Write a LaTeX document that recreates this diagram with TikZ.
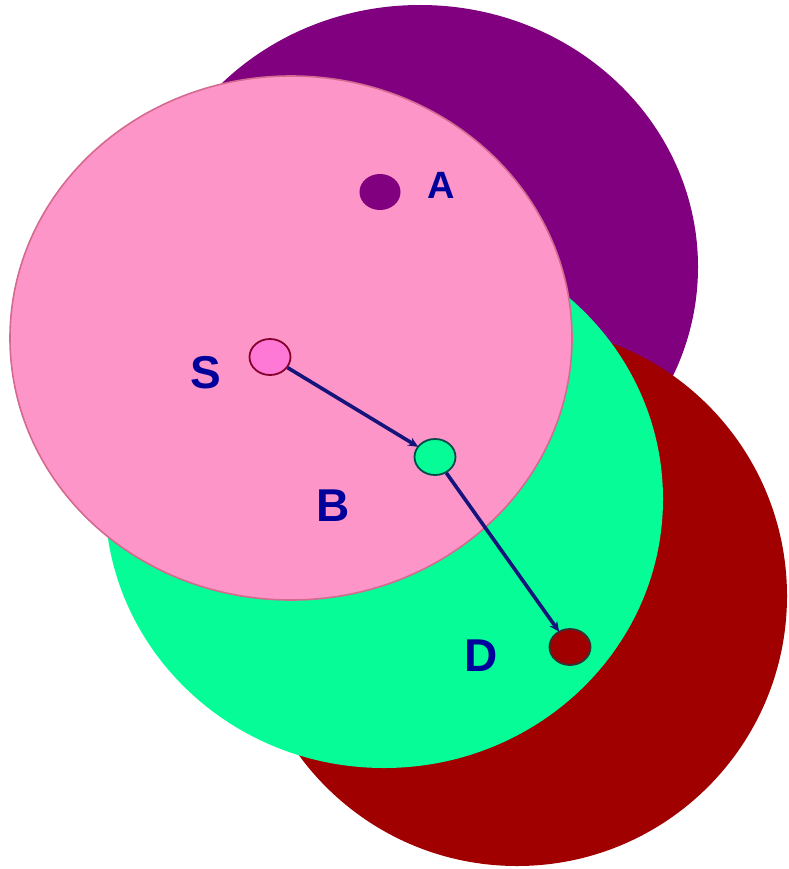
\documentclass[tikz,border=0pt]{standalone}
\usepackage{fontspec}
\setmainfont{Liberation Sans}
\usetikzlibrary{shapes.geometric,arrows.meta}
\definecolor{cpurple}{HTML}{800080}
\definecolor{cdred}{HTML}{A00000}
\definecolor{cgreen}{HTML}{05FC96}
\definecolor{cpink}{HTML}{FD95C8}
\definecolor{cpinkline}{HTML}{D56A90}
\definecolor{clabel}{HTML}{00009A}
\definecolor{cnavy}{HTML}{14147A}
\tikzset{
  smallnode/.style={ellipse, inner sep=0pt, minimum width=41pt, minimum height=36pt, line width=1.8pt},
  lbl/.style={text=clabel, font=\bfseries\fontsize{46}{46}\selectfont, inner sep=0pt},
  lblsmall/.style={text=clabel, font=\bfseries\fontsize{38}{38}\selectfont, inner sep=0pt},
  link/.style={draw=cnavy, line width=3.6pt, -{Stealth[length=10pt,width=9pt]}, shorten >=-1pt}
}
\begin{document}
\begin{tikzpicture}[x=1pt,y=-1pt]
\useasboundingbox (0,0) rectangle (788,869);
\fill[white] (0,0) rectangle (788,869);
% big regions
\fill[cpurple] (420,267) ellipse [x radius=278pt, y radius=262pt];
\fill[cdred] (517,596) ellipse [x radius=270pt, y radius=270pt];
\fill[cgreen] (384,499) ellipse [x radius=279pt, y radius=269pt];
\filldraw[fill=cpink, draw=cpinkline, line width=1.6pt] (291,338) ellipse [x radius=281pt, y radius=262pt];
% small nodes
\node[smallnode, fill=cpurple, draw=none] (A) at (380,192) {};
\node[smallnode, fill=cpink!60!magenta!70!pink, draw=black!30!purple] (S) at (270,357) {};
\node[smallnode, fill=cgreen, draw=teal!60!black] (B) at (435,457) {};
\node[smallnode, fill=cdred, draw=black!80] (D) at (570,647) {};
% labels
\node[lblsmall] (lA) at (441,185) {A};
\node[lbl] (lS) at (206,373) {S};
\node[lbl] (lB) at (333,506) {B};
\node[lbl] (lD) at (481,656) {D};
% connectors
\draw[link] (S) -- (B);
\draw[link] (B) -- (D);
\end{tikzpicture}
\end{document}
